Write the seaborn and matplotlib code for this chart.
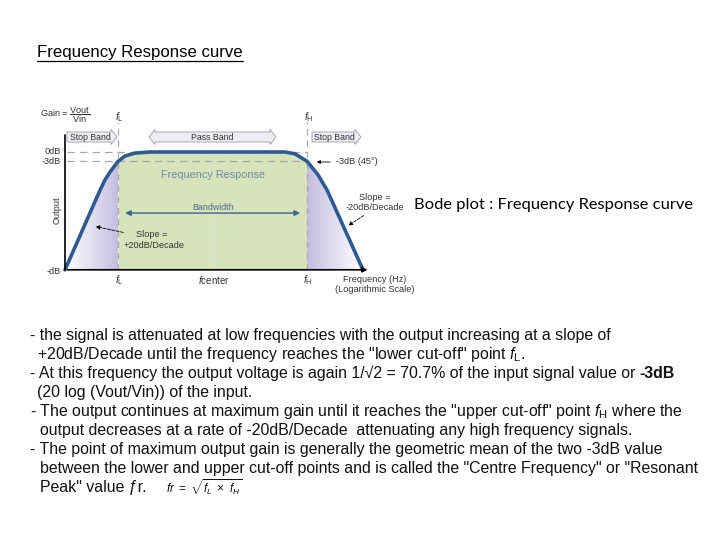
import numpy as np
import pandas as pd
import matplotlib
matplotlib.use("Agg")
import matplotlib.pyplot as plt
import seaborn as sns
from matplotlib import font_manager
from matplotlib.patches import Polygon
from matplotlib.colors import LinearSegmentedColormap

sns.set_theme(style="white")
names = {f.name for f in font_manager.fontManager.ttflist}
body_font = 'Liberation Sans Narrow' if 'Liberation Sans Narrow' in names else 'Liberation Sans'
plt.rcParams['font.family'] = ['Liberation Sans', 'DejaVu Sans']
plt.rcParams['mathtext.fontset'] = 'custom'
plt.rcParams['mathtext.rm'] = 'Liberation Sans'
plt.rcParams['mathtext.it'] = 'Liberation Sans:italic'
plt.rcParams['mathtext.bf'] = 'Liberation Sans:bold'

# response curve (x = log10 frequency, schematic; y = gain in dB)
log_f = [0.0, 1.63, 1.86, 2.09, 2.47, 2.79, 3.26, 3.95, 10.23, 10.7, 11.0, 11.26, 11.77, 12.19, 13.86]
gain_db = [-38, -12.3, -9.0, -6.5, -3.0, -1.3, -0.35, 0, 0, -0.6, -1.9, -3.0, -7.4, -12.3, -38]
f_low = 2.47
f_high = 11.26
f_center = 6.9
floor_db = -38
ref_levels = [0, -3]

title = 'Frequency Response curve'
side_label = 'Bode plot : Frequency Response curve'
notes = [
    '- the signal is attenuated at low frequencies with the output increasing at a slope of',
    '+20dB/Decade until the frequency reaches the "lower cut-off" point $f_{\\mathrm{L}}$.',
    '- At this frequency the output voltage is again 1/\u221a2 = 70.7% of the input signal value or',
    '(20 log (Vout/Vin)) of the input.',
    '- The output continues at maximum gain until it reaches the "upper cut-off" point $f_{\\mathrm{H}}$ where the',
    'output decreases at a rate of -20dB/Decade  attenuating any high frequency signals.',
    '- The point of maximum output gain is generally the geometric mean of the two -3dB value',
    'between the lower and upper cut-off points and is called the "Centre Frequency" or "Resonant',
    'Peak" value \u0192r.',
]
note_x = [30, 37, 30, 37, 30, 40, 30, 40, 40]
note_y = [335, 354, 373, 392, 411, 430, 449, 468, 487]

W, H = 720, 540
fig = plt.figure(figsize=(7.2, 5.4), dpi=100)
fig.patch.set_facecolor('white')


def P(x, y):
    return (x / W, 1 - y / H)


def FP(x, y):
    return (x, H - y)


# diagram axes: px = 65 + 21.5*x, py = 152 - 3.1*dB
XS, YS = 21.5, 3.1
ax = fig.add_axes([30 / W, 1 - 300 / H, 390 / W, 200 / H])

df = pd.DataFrame({'log_f': log_f, 'gain_db': gain_db})
x = np.array(log_f)
y = np.array(gain_db)

# pass band fill
m = (x >= f_low) & (x <= f_high)
ax.fill_between(x[m], y[m], floor_db, color='#d7e3bb', lw=0, zorder=1)

# stop band gradient skirts
skirt = LinearSegmentedColormap.from_list('skirt', ['#ffffff', '#c4bde0'])
grad = np.linspace(0, 1, 256).reshape(1, -1)
for sel, x0, x1, g in [(x <= f_low, 0, f_low, grad), (x >= f_high, f_high, x[-1], grad[:, ::-1])]:
    poly = ax.fill_between(x[sel], y[sel], floor_db, color='none', lw=0)
    im = ax.imshow(g, extent=(x0, x1, floor_db, 1), aspect='auto', cmap=skirt,
                   origin='lower', zorder=1, interpolation='bilinear')
    im.set_clip_path(poly.get_paths()[0], transform=ax.transData)

# reference dashed lines
for lv in ref_levels:
    ax.hlines(lv, 0.1, f_high, color='#a9a9a9', lw=0.9, linestyles=(0, (6, 4)), zorder=3)
for fv in [f_low, f_high]:
    ax.vlines(fv, floor_db, 9.7, color='#a9a9a9', lw=0.9, linestyles=(0, (5, 4)), zorder=3)
ax.vlines(f_center, floor_db, -20.5, color='#dedede', lw=0.8, zorder=2)

sns.lineplot(data=df, x='log_f', y='gain_db', sort=False, color='#2e5a92', lw=2.6, ax=ax, zorder=5)

# frame of the diagram
ax.plot([0, 0], [floor_db, 5.5], color='black', lw=1.2, zorder=6)
ax.annotate('', xy=(14.2, floor_db), xytext=(0, floor_db),
            arrowprops=dict(arrowstyle='-|>', color='black', lw=1.2, mutation_scale=7), zorder=6)
ax.annotate('', xy=(f_high - 0.2, -19.7), xytext=(f_low + 0.2, -19.7),
            arrowprops=dict(arrowstyle='<|-|>', color='#3b6291', lw=1.0, mutation_scale=8), zorder=6)

ax.set_xlim(-35 / XS, 355 / XS)
ax.set_ylim(-(300 - 152) / YS, (152 - 100) / YS)
ax.axis('off')


def block_arrow(x0, x1, yc, label, left=False):
    h, hh, tip = 5, 7.5, 6
    if left:
        pts = [(x0, yc), (x0 + tip, yc - hh), (x0 + tip, yc - h)]
    else:
        pts = [(x0, yc - h)]
    pts += [(x1 - tip, yc - h), (x1 - tip, yc - hh), (x1, yc), (x1 - tip, yc + hh), (x1 - tip, yc + h)]
    if left:
        pts += [(x0 + tip, yc + h), (x0 + tip, yc + hh)]
    else:
        pts += [(x0, yc + h)]
    fig.add_artist(Polygon([P(*p) for p in pts], closed=True, transform=fig.transFigure,
                           fc='#ededf4', ec='#9a9aa8', lw=0.6))
    fig.text(*P((x0 + x1) / 2 - (0 if left else 2), yc), label, ha='center', va='center',
             fontsize=6.3, color='#333333')


block_arrow(67, 117, 137, 'Stop Band')
block_arrow(149, 276, 137, 'Pass Band', left=True)
block_arrow(312, 361, 137, 'Stop Band')

small = dict(fontsize=6.6, color='#333333')
fig.text(*P(40, 115), r'Gain = $\dfrac{\mathrm{Vout}}{\mathrm{Vin}}$', ha='left', va='center', **small)
fig.text(*P(119, 117), r'$f_{\mathrm{L}}$', ha='center', va='center', fontsize=7.5, color='#333333')
fig.text(*P(309, 117), r'$f_{\mathrm{H}}$', ha='center', va='center', fontsize=7.5, color='#333333')
fig.text(*P(61, 152), '0dB', ha='right', va='center', **small)
fig.text(*P(61, 162), '-3dB', ha='right', va='center', **small)
fig.text(*P(57, 210), 'Output', ha='center', va='center', rotation=90, **small)
fig.text(*P(61, 271), '-dB', ha='right', va='center', **small)
fig.text(*P(119, 280), r'$f_{\mathrm{L}}$', ha='center', va='center', fontsize=7.5, color='#333333')
fig.text(*P(214, 280), r'$f$center', ha='center', va='center', fontsize=7, color='#333333')
fig.text(*P(308, 280), r'$f_{\mathrm{H}}$', ha='center', va='center', fontsize=7.5, color='#333333')
fig.text(*P(375, 279), 'Frequency (Hz)', ha='center', va='center', **small)
fig.text(*P(375, 289), '(Logarithmic Scale)', ha='center', va='center', **small)
fig.text(*P(213, 175), 'Frequency Response', ha='center', va='center', fontsize=7.8, color='#6f88a8')
fig.text(*P(213, 208), 'Bandwidth', ha='center', va='center', fontsize=6.4, color='#4d6b93')
fig.text(*P(336, 162), '-3dB (45\u00b0)', ha='left', va='center', **small)
fig.text(*P(375, 198), 'Slope =', ha='center', va='center', **small)
fig.text(*P(375, 208), '-20dB/Decade', ha='center', va='center', **small)
fig.text(*P(152, 235), 'Slope =', ha='center', va='center', **small)
fig.text(*P(154, 245), '+20dB/Decade', ha='center', va='center', **small)

arr = dict(xycoords='figure pixels', textcoords='figure pixels')
ax.annotate('', xy=FP(314, 162), xytext=FP(333, 162),
            arrowprops=dict(arrowstyle='-|>', color='black', lw=0.6, mutation_scale=5), **arr)
ax.annotate('', xy=FP(346, 227), xytext=FP(366, 214),
            arrowprops=dict(arrowstyle='-|>', color='black', lw=0.6, ls='--', mutation_scale=6), **arr)
ax.annotate('', xy=FP(93, 226), xytext=FP(126, 233),
            arrowprops=dict(arrowstyle='-|>', color='black', lw=0.6, ls='--', mutation_scale=6), **arr)

renderer = fig.canvas.get_renderer()


def fit(t, width):
    w = t.get_window_extent(renderer).width
    t.set_fontsize(t.get_fontsize() * width / w)


# slide title, underlined
t_title = fig.text(*P(37, 57), title, ha='left', va='baseline', fontsize=10, color='black')
fit(t_title, 206)
bb = t_title.get_window_extent(renderer)
fig.add_artist(plt.Line2D([bb.x0 / W, bb.x1 / W], [(H - 61) / H] * 2, color='black', lw=0.9))

t_side = fig.text(*P(414, 205), side_label, ha='left', va='center', fontsize=11,
                  family=['Lato', 'DejaVu Sans'], color='black')
fit(t_side, 277)

# body notes
texts = []
for nx, ny, s in zip(note_x, note_y, notes):
    texts.append(fig.text(*P(nx, ny + 5), s, ha='left', va='baseline', fontsize=12,
                          family=[body_font, 'DejaVu Sans'], color='#111111'))
w0 = texts[0].get_window_extent(renderer).width
size = 12 * 581 / w0
for t in texts:
    t.set_fontsize(size)
bb3 = texts[2].get_window_extent(renderer)
fig.text(bb3.x1 / W + 4 / W, 1 - (373 + 5) / H, '-3dB', ha='left', va='baseline', fontsize=size,
         family=[body_font, 'DejaVu Sans'], weight='bold', color='#111111')
fig.text(166 / W, 1 - (487 + 6) / H, r'$fr\ =\ \sqrt{f_L\ \times\ f_H}$', ha='left',
         va='baseline', fontsize=8.5, color='#111111')

fig.savefig('out.png', dpi=100, facecolor='white')
